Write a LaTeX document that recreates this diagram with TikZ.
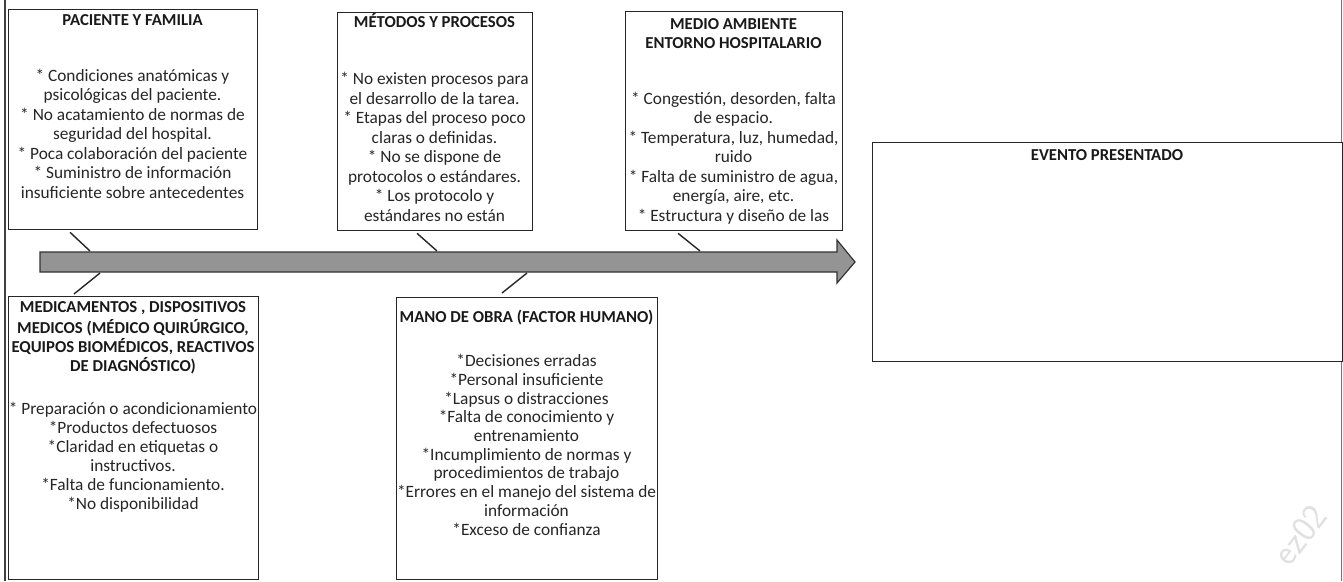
\documentclass[tikz,border=0pt]{standalone}
\usepackage{fontspec}
\setmainfont{Carlito}
\usetikzlibrary{calc}
\begin{document}
\begin{tikzpicture}[x=1pt,y=-1pt,
  box/.style={draw=black!85, line width=1.3pt, fill=white, inner sep=0pt, anchor=north west},
  ttl/.style={font=\bfseries\fontsize{16.7}{19}\selectfont, align=center, inner sep=0pt, text=black!90},
  bodytxt/.style={align=center, inner sep=0pt, anchor=north, text=black!85},
  link/.style={draw=black!85, line width=1.4pt},
  frameline/.style={draw=black!75, line width=1.2pt}]
\useasboundingbox (0,0) rectangle (1343,581);
\fill[white] (0,0) rectangle (1343,581);
% outer frame lines
\draw[frameline] (5,0) -- (5,581);
\draw[frameline, draw=black!55] (1341.5,0) -- (1341.5,581);
% main arrow
\draw[fill=black!42, draw=black!80, line width=1.2pt, line join=miter]
  (40,252) -- (837,252) -- (837,240) -- (855,262) -- (837,283) -- (837,272) -- (40,272) -- cycle;
\coordinate (c1) at (90,251);
\coordinate (c2) at (437,251);
\coordinate (c3) at (700,251);
\coordinate (c4) at (100,273);
\coordinate (c5) at (527,273);
% boxes
\node[box, minimum width=249pt, minimum height=220pt] (b1) at (8,9) {};
\node[box, minimum width=195pt, minimum height=218pt] (b2) at (337,12) {};
\node[box, minimum width=217pt, minimum height=219pt] (b3) at (625,11) {};
\node[box, minimum width=250pt, minimum height=283pt] (b4) at (8,296) {};
\node[box, minimum width=261pt, minimum height=282pt] (b5) at (396,297) {};
\node[box, minimum width=470pt, minimum height=219pt] (b6) at (872,142) {};
% box 1
\node[ttl, anchor=base] (h1) at (132.5,25) {PACIENTE Y FAMILIA};
\node[bodytxt, font=\fontsize{17.3}{19.5}\selectfont] (x1) at (132.5,67.5) {\strut * Condiciones anatómicas y\\ psicológicas del paciente.\\ * No acatamiento de normas de\\ seguridad del hospital.\\ * Poca colaboración del paciente\\ * Suministro de información\\ insuficiente sobre antecedentes};
% box 2
\node[ttl, anchor=base] (h2) at (434.5,27) {MÉTODOS Y PROCESOS};
\node[bodytxt, font=\fontsize{17.3}{19.5}\selectfont] (x2) at (434.5,71) {\strut * No existen procesos para\\ el desarrollo de la tarea.\\ * Etapas del proceso poco\\ claras o definidas.\\ * No se dispone de\\ protocolos o estándares.\\ * Los protocolo y\\ estándares no están};
% box 3
\node[ttl, anchor=north] (h3) at (733.5,16) {\strut MEDIO AMBIENTE\\ ENTORNO HOSPITALARIO};
\node[bodytxt, font=\fontsize{17.3}{19.5}\selectfont] (x3) at (733.5,90.5) {\strut * Congestión, desorden, falta\\ de espacio.\\ * Temperatura, luz, humedad,\\ ruido\\ * Falta de suministro de agua,\\ energía, aire, etc.\\ * Estructura y diseño de las};
% box 4
\node[ttl, anchor=north] (h4) at (133,299) {\strut MEDICAMENTOS , DISPOSITIVOS\\ MEDICOS (MÉDICO QUIRÚRGICO,\\ EQUIPOS BIOMÉDICOS, REACTIVOS\\ DE DIAGNÓSTICO)};
\node[bodytxt, font=\fontsize{17.3}{19}\selectfont] (x4) at (133,401) {\strut * Preparación o acondicionamiento\\ *Productos defectuosos\\ *Claridad en etiquetas o\\ instructivos.\\ *Falta de funcionamiento.\\ *No disponibilidad};
% box 5
\node[ttl, anchor=base] (h5) at (526.5,322) {MANO DE OBRA (FACTOR HUMANO)};
\node[bodytxt, font=\fontsize{17.3}{18.7}\selectfont] (x5) at (526.5,353.5) {\strut *Decisiones erradas\\ *Personal insuficiente\\ *Lapsus o distracciones\\ *Falta de conocimiento y\\ entrenamiento\\ *Incumplimiento de normas y\\ procedimientos de trabajo\\ *Errores en el manejo del sistema de\\ información\\ *Exceso de confianza};
% box 6
\node[ttl, anchor=base] (h6) at (1107,160) {EVENTO PRESENTADO};
% connectors
\draw[link] ($(b1.south west)+(62,2)$) -- (c1);
\draw[link] ($(b2.south west)+(80,2)$) -- (c2);
\draw[link] ($(b3.south west)+(53,2)$) -- (c3);
\draw[link] (c4) -- ($(b4.north west)+(66,-2)$);
\draw[link] (c5) -- ($(b5.north west)+(106,-4)$);
% faint watermark
\node[text=black!12, rotate=52, font=\sffamily\fontsize{36}{36}\selectfont] (wm) at (1300,535) {ez02};
\end{tikzpicture}
\end{document}
